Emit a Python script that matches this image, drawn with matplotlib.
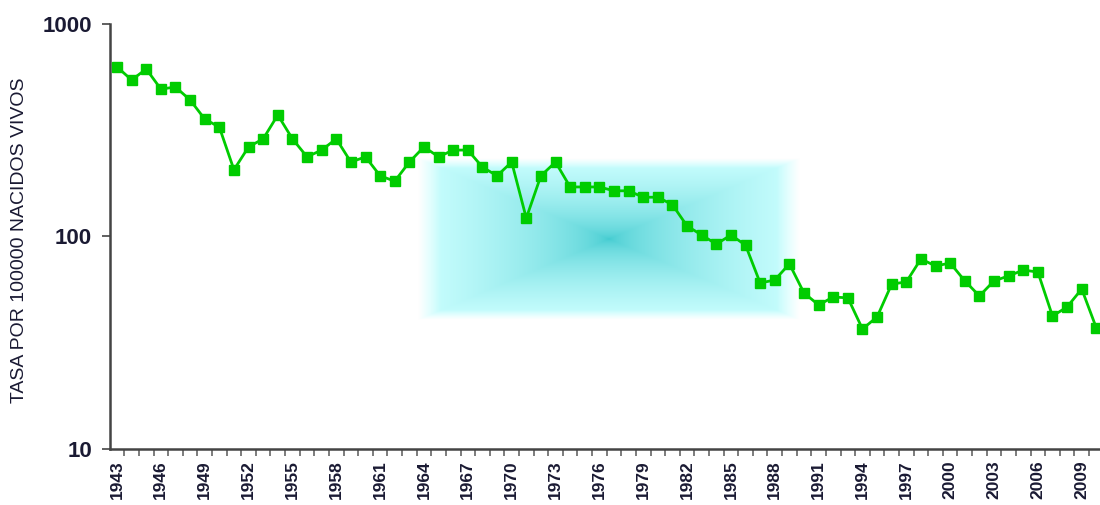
import numpy as np
import matplotlib.pyplot as plt
from matplotlib.ticker import FixedLocator, NullFormatter

plt.rcParams["font.family"] = ["Liberation Sans", "DejaVu Sans"]

years = list(range(1943, 2011))
tasa = [628, 545, 614, 494, 505, 439, 357, 327, 206, 264,
        288, 373, 288, 237, 255, 288, 224, 237, 193, 182,
        224, 264, 237, 255, 255, 212, 193, 224, 122, 193,
        224, 171, 171, 171, 164, 164, 153, 153, 141, 112,
        101.6, 92, 101.6, 91, 60.4, 62.4, 74.3, 54.2, 47.6, 51.9,
        51.4, 36.7, 41.8, 59.7, 61.1, 78.4, 72.6, 75, 61.8, 52.5,
        61.8, 65.2, 69.5, 68, 42.2, 46.6, 56.6, 37.1]
label_years = years[::3]

# area sombreada (años, tasa)
sombra_x = (1963.6, 1989.7)
sombra_y = (40.5, 234)

fig = plt.figure(figsize=(11, 5.05), dpi=100)
ax = fig.add_axes([0.1, 0.111, 0.9, 0.8415])
ax.set_yscale("log")
ax.set_xlim(1942.52, 2010.25)
ax.set_ylim(10, 1000)

# gradiente rectangular, centro cian oscuro hacia bordes claros
ny, nx = 200, 400
u = np.abs(np.linspace(-1, 1, nx))[None, :]
v = np.abs(np.linspace(-1, 1, ny))[:, None]
t = np.maximum(u, v)
c0 = np.array([0.24, 0.79, 0.81])
c1 = np.array([0.80, 1.0, 1.0])
col = c0 + (c1 - c0) * (t[..., None] ** 0.55)
fade = np.clip((1 - t) / 0.12, 0, 1)[..., None]
col = col * fade + (1 - fade)
to_axes = ax.transData + ax.transAxes.inverted()
(x0, y0), (x1, y1) = to_axes.transform([(sombra_x[0], sombra_y[0]), (sombra_x[1], sombra_y[1])])
ax.imshow(col, extent=(x0, x1, y0, y1), transform=ax.transAxes,
          aspect="auto", zorder=0, interpolation="bilinear")
ax.set_xlim(1942.52, 2010.25)
ax.set_ylim(10, 1000)

ax.plot(years, tasa, color="#00CC00", linewidth=2, marker="s",
        markersize=6.5, zorder=3)

for s in ["top", "right"]:
    ax.spines[s].set_visible(False)
for s in ["left", "bottom"]:
    ax.spines[s].set_color("#444444")
    ax.spines[s].set_linewidth(1.8)

ax.yaxis.set_major_locator(FixedLocator([10, 100, 1000]))
ax.set_yticklabels(["10", "100", "1000"], fontsize=16, fontweight="bold",
                   color="#1a1a33")
ax.yaxis.set_minor_locator(FixedLocator([]))
ax.tick_params(axis="y", which="major", length=6, width=1.2, color="#444444", pad=7)

ax.xaxis.set_major_locator(FixedLocator(label_years))
ax.set_xticklabels([str(y) for y in label_years], rotation=90,
                   fontsize=12.5, fontweight="bold", color="#1a1a33")
ax.xaxis.set_minor_locator(FixedLocator([y - 0.5 for y in years]))
ax.xaxis.set_minor_formatter(NullFormatter())
ax.tick_params(axis="x", which="major", length=0, pad=8)
ax.tick_params(axis="x", which="minor", length=5, width=1.2, color="#666666")

ax.set_ylabel("TASA POR 100000 NACIDOS VIVOS", fontsize=14, labelpad=10,
              color="#1a1a33")
ax.yaxis.set_label_coords(-0.083, 0.49)

fig.savefig("out.png", dpi=100)
